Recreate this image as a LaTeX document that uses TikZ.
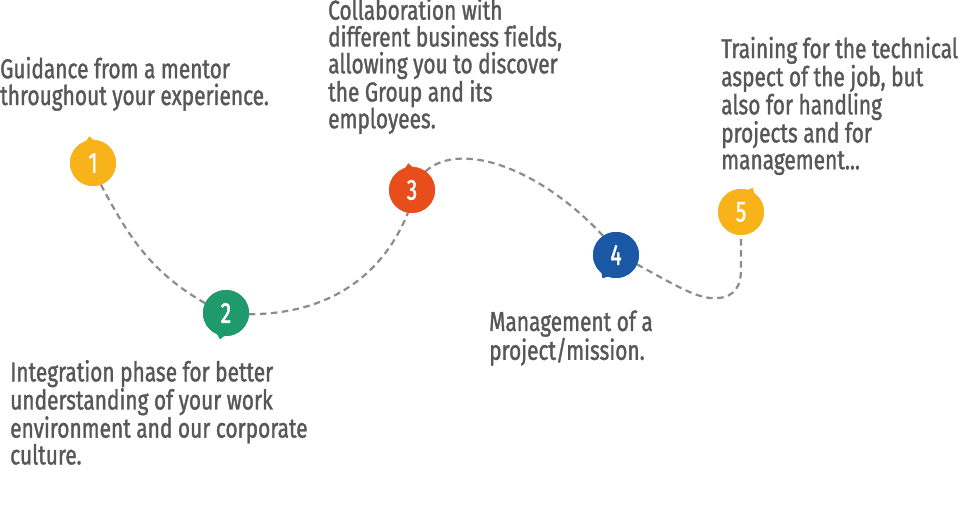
\documentclass[tikz,border=0pt]{standalone}
\usepackage{fontspec}
\setmainfont{Fira Sans}[FakeStretch=0.765, FakeBold=1.3, Ligatures=NoCommon]
\newfontfamily\numfont{Fira Sans}[FakeStretch=0.72, FakeBold=1.6]
\definecolor{cyel}{HTML}{F8B31B}
\definecolor{cgrn}{HTML}{1E9A6C}
\definecolor{cred}{HTML}{E84E1C}
\definecolor{cblu}{HTML}{1A58A5}
\definecolor{txtg}{HTML}{575757}
\definecolor{dashg}{HTML}{8C8C8C}
\newcommand\mytip[3]{%
  \pgfmathsetmacro\tipa{#2-28}%
  \pgfmathsetmacro\tipb{#2-6}%
  \pgfmathsetmacro\tipc{#2+6}%
  \pgfmathsetmacro\tipd{#2+28}%
  \fill[#3] ([shift={(\tipa:22)}]#1.center) .. controls ([shift={(\tipb:23.5)}]#1.center) .. ([shift={(#2:27)}]#1.center)
    .. controls ([shift={(\tipc:23.5)}]#1.center) .. ([shift={(\tipd:22)}]#1.center) -- (#1.center) -- cycle;}
\begin{document}
\begin{tikzpicture}[x=1pt,y=1pt,
  mk/.style={circle, minimum size=46pt, inner sep=0pt, outer sep=0pt, text=white, font=\numfont\fontsize{29}{29}\selectfont},
  txt/.style={anchor=base west, inner sep=0pt, align=left, text=txtg, font=\fontsize{27.3}{26.8}\selectfont},
  trail/.style={draw=dashg, line width=2.2pt, dash pattern=on 6.5pt off 4.5pt}]
\useasboundingbox (0,0) rectangle (963,506);
% markers
\node[mk, fill=cyel] (m1) at (93,343) {1};
\node[mk, fill=cgrn] (m2) at (226,193) {2};
\node[mk, fill=cred] (m3) at (412,316) {3};
\node[mk, fill=cblu] (m4) at (616,251) {4};
\node[mk, fill=cyel] (m5) at (741,294) {5};
% dashed trail
\draw[trail] (m1.-70) to[out=-62,in=150] (m2.155);
\draw[trail] (m2.-3) to[out=0,in=-112] (m3.-100);
\draw[trail] (m3.54) .. controls (460,366) and (540,338) .. (m4.124);
\coordinate (b45) at (718,208);
\coordinate (v5) at (741,236);
\draw[trail] (m4.-24) .. controls (680,218) and (700,206) .. (b45) .. controls (735,209) and (741,221) .. (v5) -- (m5.-90);
% markers on top, with tips
\mytip{m1}{98}{cyel}
\mytip{m2}{-103}{cgrn}
\mytip{m3}{98}{cred}
\mytip{m4}{-120}{cblu}
\mytip{m5}{64}{cyel}
\node[mk, fill=cyel] at (m1.center) {1};
\node[mk, fill=cgrn] at (m2.center) {2};
\node[mk, fill=cred] at (m3.center) {3};
\node[mk, fill=cblu] at (m4.center) {4};
\node[mk, fill=cyel] at (m5.center) {5};
% texts (anchored at the baseline of the last line)
\node[txt] (t1) at (0,401) {Guidance from a mentor\\throughout your experience.};
\node[txt] (t2) at (10,41.6) {Integration phase for better\\understanding of your work\\environment and our corporate\\culture.};
\node[txt] (t3) at (328,377.8) {Collaboration with\\different business fields,\\allowing you to discover\\the Group and its\\employees.};
\node[txt] (t4) at (489,146.2) {Management of a\\project/mission.};
\node[txt] (t5) at (721,336.8) {Training for the technical\\aspect of the job, but\\also for handling\\projects and for\\management...};
\end{tikzpicture}
\end{document}
